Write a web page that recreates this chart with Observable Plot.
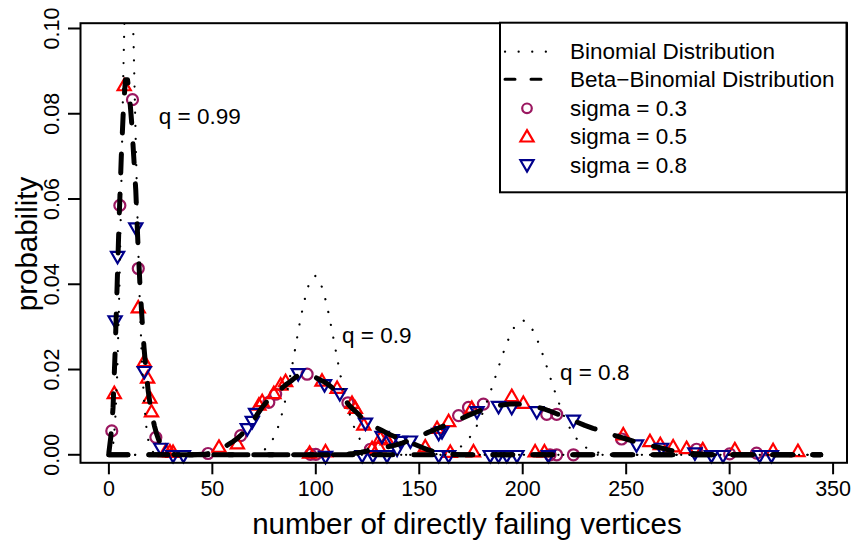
<!DOCTYPE html>
<html><head><meta charset="utf-8">
<script src="https://cdn.jsdelivr.net/npm/d3@7"></script>
<script src="https://cdn.jsdelivr.net/npm/@observablehq/plot@0.6"></script>
<style>body{margin:0;background:#fff} svg{display:block}</style>
</head><body><div id="chart"></div>
<script>
const FONT = '"Liberation Sans", Arial, Helvetica, sans-serif';

// ---- tick labels ----
const xTicks = [0, 50, 100, 150, 200, 250, 300, 350];
const yTicks = [0, 0.02, 0.04, 0.06, 0.08, 0.10];

// ---- Binomial distribution (dotted) ----
const binom099X = [0,1,2,3,4,5,6,7,8,9,10,11,12,13,14,15,16,17,18,19,20,21,22,23,24,25,344];
const binom099Y = [0.00004,0.00044,0.0022,0.0074,0.0186,0.0375,0.0628,0.0901,0.1129,0.1257,0.1258,0.1144,0.0952,0.0731,0.0521,0.0346,0.0215,0.0126,0.0069,0.0036,0.0018,0.0008,0.0004,0.0002,0.0001,0,0];
const binom09X = [0,60,65,70,72,74,76,78,80,82,84,86,88,90,92,94,96,98,100,102,104,106,108,110,112,114,116,118,120,122,124,126,128,130,135,140,344];
const binom09Y = [0,0,0.00002,0.0002,0.0004,0.0008,0.0015,0.0026,0.0043,0.0068,0.0102,0.0144,0.0194,0.0248,0.0303,0.0352,0.0391,0.0415,0.0420,0.0407,0.0378,0.0336,0.0287,0.0235,0.0184,0.0139,0.0101,0.0071,0.0047,0.0031,0.0019,0.0011,0.0007,0.0004,0.0001,0,0];
const binom08X = [0,150,156,160,164,166,168,170,172,174,176,178,180,182,184,186,188,190,192,194,196,198,200,202,204,206,208,210,212,214,216,218,220,222,224,226,228,230,232,234,236,240,244,250,344];
const binom08Y = [0,0,0.00007,0.00021,0.00055,0.00085,0.00129,0.00189,0.00272,0.00381,0.00521,0.00695,0.00904,0.01146,0.01417,0.01709,0.02011,0.02308,0.02582,0.02818,0.03000,0.03115,0.03154,0.03115,0.03000,0.02818,0.02582,0.02308,0.02011,0.01709,0.01417,0.01146,0.00904,0.00695,0.00521,0.00381,0.00272,0.00189,0.00129,0.00085,0.00055,0.00021,0.00007,0,0];

// ---- Beta-Binomial distribution (dashed) ----
const bb099X = [0,1,2,3,4,5,6,7,8,9,10,11,12,13,14,15,16,17,18,19,20,21,22,23,24,25,26,27,28,29,30,31,32,344];
const bb099Y = [0.0005,0.0045,0.011,0.024,0.040,0.056,0.070,0.081,0.088,0.088,0.084,0.078,0.070,0.062,0.050,0.040,0.032,0.025,0.0195,0.015,0.0115,0.009,0.0068,0.005,0.0036,0.0025,0.0017,0.0011,0.0007,0.0004,0.0002,0.0001,0,0];
const bb09X = [0,40,46,48,50,52,54,56,58,60,62,64,66,68,70,72,74,76,78,80,82,84,86,88,90,92,94,96,98,100,102,104,106,108,110,112,114,116,118,120,122,124,126,128,130,132,134,136,138,140,142,144,146,148,150,152,154,156,158,160,164,170,344];
const bb09Y = [0,0,0.0001,0.0003,0.0006,0.001,0.0014,0.0019,0.0025,0.0031,0.0038,0.0047,0.0057,0.0068,0.0082,0.0097,0.0111,0.0123,0.0133,0.0142,0.0149,0.0158,0.0166,0.0173,0.0181,0.0188,0.0190,0.0188,0.0185,0.0181,0.0176,0.0171,0.0165,0.0157,0.0148,0.0140,0.0129,0.0117,0.0107,0.0098,0.0088,0.0081,0.0074,0.0068,0.0062,0.0057,0.0052,0.0047,0.0043,0.0039,0.0036,0.0033,0.0028,0.0024,0.0020,0.0016,0.0012,0.0009,0.0006,0.0004,0.0002,0,0];
const bb08X = [0,110,114,118,122,126,130,134,138,142,146,150,154,158,162,166,170,174,178,182,186,190,194,198,202,206,210,214,218,222,226,230,234,238,242,246,250,254,258,262,266,270,274,278,282,288,295,344];
const bb08Y = [0,0,0.0001,0.0003,0.0006,0.0010,0.0014,0.0018,0.0022,0.0028,0.0035,0.0043,0.0052,0.0060,0.0068,0.0076,0.0084,0.0093,0.0101,0.0108,0.0113,0.0117,0.0119,0.0119,0.0117,0.0113,0.0108,0.0101,0.0093,0.0085,0.0077,0.0069,0.0062,0.0056,0.0049,0.0043,0.0037,0.0031,0.0026,0.0021,0.0017,0.0012,0.0008,0.0005,0.0003,0.0001,0,0];

// ---- simulated points ----
const sigma03X = [1.4,5.3,11.4,14.2,22.7,47.9,63.7,77.3,80.6,95.8,97.4,100,115.5,126.4,169,173.8,181,211.6,216.4,213.2,216.4,224.5,247.8,284,300,313];
const sigma03Y = [0.0056,0.0585,0.0833,0.0437,0.0041,0.0003,0.0045,0.0123,0.0142,0.0189,0.0001,0.0001,0.0122,0.0013,0.0092,0.0111,0.0119,0.0095,0.0095,0,0,0,0.0037,0.0013,0.0002,0.0004];
const sigma05X = [2.6,7.4,14.2,17.1,18.7,19.8,20.6,27.5,29.5,31,53.2,62.1,72.5,74.1,79.7,83,85.4,97,103,104.7,110.3,117.5,119.1,123.2,127.2,130.4,131.2,134.4,152.9,158.6,164.2,165,175.4,176.2,194.7,200.3,206,210.5,248.6,261.5,266.5,272.7,279.2,287,302.5,321,333];
const sigma05Y = [0.0142,0.0864,0.0343,0.0217,0.0178,0.0131,0.0099,0.0006,0.0005,0.0004,0.0016,0.0024,0.0115,0.0123,0.0142,0.0162,0.017,0.0002,0.0171,0.0005,0.0154,0.0119,0.0107,0.0068,0.0013,0.0017,0.0037,0.0033,0.0017,0.006,0.0076,0.0004,0.0107,0.0005,0.0135,0.0119,0.0005,0.0005,0.0045,0.0029,0.0022,0.0017,0.0013,0.001,0.001,0.0008,0.0006];
const sigma08X = [3.0,4.2,13.0,17.1,25.1,31,36,66.9,69.3,70.9,91.5,104.2,104.7,111.6,122.4,124,127.6,132,134.4,136.9,139.3,140.9,145.7,159.4,159.4,161,164.2,177.9,184.3,188.3,188.3,192.3,194.7,197.2,206.8,212.4,224.5,255,267.1,283.2,291.2,296.8,314.5,320.2];
const sigma08Y = [0.0316,0.0467,0.0534,0.0197,0.0017,0,0,0.0063,0.008,0.0099,0.0192,0.0166,-0.0002,0.0145,0,0.0076,0,0.0045,0,0.0037,0.0015,0.0033,0.0034,0.0052,0,0.0056,0,0.0103,0,0.0115,0,0,0.0113,0,0.0103,0,0.0083,0.0025,0.0017,0.0006,0,0,0,0];

// ---- annotations & legend ----
const qLabels = ["q = 0.99", "q = 0.9", "q = 0.8"];
const qLabelX = [24.1, 112.7, 218];
const qLabelY = [0.0792, 0.0279, 0.0193];
const legendLabels = ["Binomial Distribution", "Beta\u2212Binomial Distribution", "sigma = 0.3", "sigma = 0.5", "sigma = 0.8"];
const seriesColors = ["#9B1760", "#FF0000", "#00008B"];

const rows = (xs, ys) => xs.map((x, i) => ({x, y: ys[i]}));
const triUp = {draw(ctx, size) { const r = Math.sqrt(size / Math.PI); ctx.moveTo(0, -r); ctx.lineTo(r * 0.866, r * 0.5); ctx.lineTo(-r * 0.866, r * 0.5); ctx.closePath(); }};
const triDown = {draw(ctx, size) { const r = Math.sqrt(size / Math.PI); ctx.moveTo(0, r); ctx.lineTo(r * 0.866, -r * 0.5); ctx.lineTo(-r * 0.866, -r * 0.5); ctx.closePath(); }};

const dotted = {x: "x", y: "y", stroke: "black", strokeWidth: 2.2, strokeDasharray: "0.1,13", strokeLinecap: "round", clip: true};
const dashed = {x: "x", y: "y", stroke: "black", strokeWidth: 5, strokeDasharray: "19,21", strokeLinecap: "round", strokeLinejoin: "round", clip: true};
const TRI_R = 7.6;

const chart = Plot.plot({
  width: 853, height: 545,
  marginLeft: 80, marginRight: 6.5, marginTop: 22.7, marginBottom: 82.7,
  x: {domain: [-13.72, 356.72]},
  y: {domain: [-0.00188, 0.10124]},
  style: {fontFamily: FONT, fontSize: "21.5px", background: "white", color: "black", overflow: "visible"},
  marks: [
    Plot.dot(rows(sigma03X, sigma03Y), {x: "x", y: "y", r: 5.5, stroke: seriesColors[0], strokeWidth: 2.2, fill: "none"}),
    Plot.dot(rows(sigma05X, sigma05Y), {x: "x", y: "y", r: TRI_R, symbol: triUp, stroke: seriesColors[1], strokeWidth: 2.2, fill: "none"}),
    Plot.dot(rows(sigma08X, sigma08Y), {x: "x", y: "y", r: TRI_R, symbol: triDown, stroke: seriesColors[2], strokeWidth: 2.2, fill: "none"}),
    Plot.line(rows(binom099X, binom099Y), dotted),
    Plot.line(rows(binom09X, binom09Y), dotted),
    Plot.line(rows(binom08X, binom08Y), dotted),
    Plot.line(rows(bb099X, bb099Y), dashed),
    Plot.line(rows(bb09X, bb09Y), dashed),
    Plot.line(rows(bb08X, bb08Y), dashed),
    Plot.text(qLabels.map((t, i) => ({t, x: qLabelX[i], y: qLabelY[i]})), {x: "x", y: "y", text: "t", textAnchor: "start", fontSize: 22.5}),
    Plot.frame({stroke: "black", strokeWidth: 2}),
    Plot.axisX(xTicks, {tickSize: 12, tickPadding: 6, strokeWidth: 2, fontSize: 21.5, label: null}),
    Plot.axisY(yTicks, {tickSize: 12, tickFormat: () => "", strokeWidth: 2, label: null}),
    Plot.text(yTicks, {y: d => d, text: d => d3.format(".2f")(d), frameAnchor: "left", dx: -28, rotate: -90, textAnchor: "middle", fontSize: 21.5})
  ]
});

const svg = d3.select(chart);
// axis titles
svg.append("text").attr("x", 467).attr("y", 534).attr("text-anchor", "middle")
  .style("font-family", FONT).style("font-size", "29.5px").text("number of directly failing vertices");
svg.append("text").attr("transform", "translate(26,244) rotate(-90)").attr("text-anchor", "middle")
  .attr("dominant-baseline", "central").style("font-family", FONT).style("font-size", "29.5px").text("probability");

// legend
const lg = svg.append("g");
lg.append("rect").attr("x", 500).attr("y", 22.7).attr("width", 346.5).attr("height", 169.6)
  .attr("fill", "white").attr("stroke", "black").attr("stroke-width", 2);
const rowY = [51.7, 79.3, 108.3, 136.7, 165];
lg.append("line").attr("x1", 505).attr("x2", 546).attr("y1", rowY[0]).attr("y2", rowY[0])
  .attr("stroke", "black").attr("stroke-width", 2.2).attr("stroke-dasharray", "0.1,13.5").attr("stroke-linecap", "round");
lg.append("line").attr("x1", 505).attr("x2", 541).attr("y1", rowY[1]).attr("y2", rowY[1])
  .attr("stroke", "black").attr("stroke-width", 3).attr("stroke-dasharray", "10,16").attr("stroke-linecap", "round");
lg.append("circle").attr("cx", 527).attr("cy", rowY[2]).attr("r", 4.8).attr("fill", "none").attr("stroke", seriesColors[0]).attr("stroke-width", 2.2);
lg.append("path").attr("transform", `translate(527,${rowY[3] + 1})`).attr("d", d3.symbol(triUp, TRI_R * TRI_R * Math.PI)())
  .attr("fill", "none").attr("stroke", seriesColors[1]).attr("stroke-width", 2.2);
lg.append("path").attr("transform", `translate(527,${rowY[4] - 1})`).attr("d", d3.symbol(triDown, TRI_R * TRI_R * Math.PI)())
  .attr("fill", "none").attr("stroke", seriesColors[2]).attr("stroke-width", 2.2);
legendLabels.forEach((t, i) => {
  lg.append("text").attr("x", 570).attr("y", rowY[i]).attr("dominant-baseline", "central").attr("text-anchor", "start")
    .style("font-family", FONT).style("font-size", "22.5px").text(t);
});

document.getElementById("chart").appendChild(chart);
</script></body></html>
